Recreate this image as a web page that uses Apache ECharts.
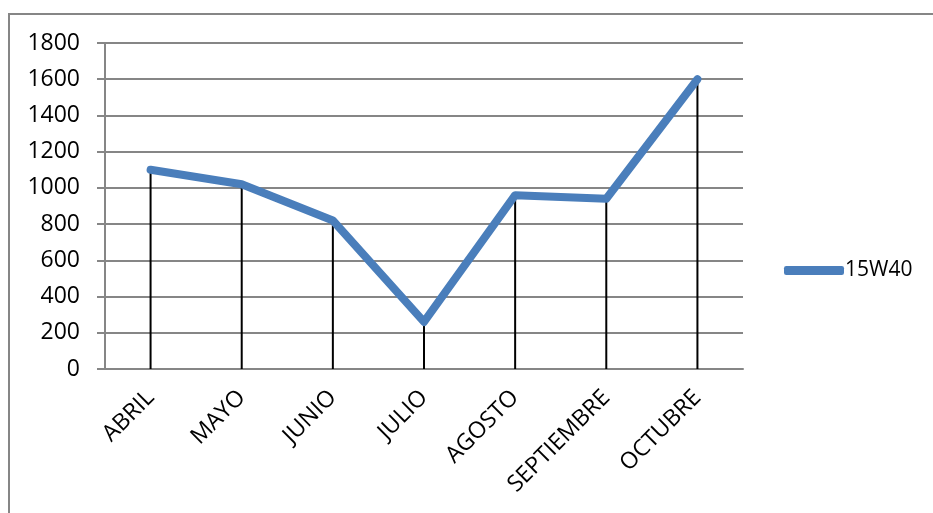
<!DOCTYPE html>
<html>
<head>
<meta charset="utf-8">
<script src="https://cdn.jsdelivr.net/npm/echarts@6/dist/echarts.min.js"></script>
<style>
  html, body { margin: 0; padding: 0; background: #fff; }
  #chart { width: 933px; height: 513px; }
</style>
</head>
<body>
<div id="chart"></div>
<script>
var meses = ["ABRIL", "MAYO", "JUNIO", "JULIO", "AGOSTO", "SEPTIEMBRE", "OCTUBRE"];
var ventas15w40 = [1100, 1020, 820, 260, 960, 940, 1600];
var serieNombre = "15W40";

var chart = echarts.init(document.getElementById("chart"));
var fuente = "Open Sans";

chart.setOption({
    animation: false,
    backgroundColor: "#fff",
    graphic: [{
        type: "rect",
        shape: { x: 9, y: 14, width: 1000, height: 600 },
        style: { fill: "none", stroke: "#868686", lineWidth: 2 },
        silent: true
    }],
    grid: { left: 105, right: 190, top: 43, bottom: 144 },
    legend: {
        data: [{ name: serieNombre, icon: "roundRect" }],
        orient: "vertical",
        left: 779,
        top: 255,
        itemWidth: 60,
        itemHeight: 9,
        itemGap: 4,
        textStyle: { fontFamily: fuente, fontSize: 21, color: "#000", padding: [0, 0, 0, -4] }
    },
    xAxis: {
        type: "category",
        data: meses,
        boundaryGap: true,
        axisLine: { lineStyle: { color: "#868686", width: 2 } },
        axisTick: { show: false },
        axisLabel: {
            rotate: 45,
            margin: 25,
            interval: 0,
            fontFamily: fuente,
            fontSize: 23,
            color: "#000"
        }
    },
    yAxis: {
        type: "value",
        min: 0,
        max: 1800,
        interval: 200,
        axisLine: { show: true, lineStyle: { color: "#868686", width: 2 } },
        axisTick: { show: true, length: 8, lineStyle: { color: "#868686", width: 2 } },
        splitLine: { lineStyle: { color: "#868686", width: 2 } },
        axisLabel: {
            fontFamily: fuente,
            fontSize: 23,
            color: "#000",
            margin: 25,
            formatter: function (v) { return String(v); }
        }
    },
    series: [{
        // lineas de caida
        name: "caida",
        type: "bar",
        data: ventas15w40,
        barWidth: 2,
        itemStyle: { color: "#000" },
        z: 1,
        silent: true
    }, {
        name: serieNombre,
        type: "line",
        data: ventas15w40,
        showSymbol: false,
        symbol: "none",
        lineStyle: { color: "#4a7ebb", width: 8, cap: "round", join: "round" },
        itemStyle: { color: "#4a7ebb" },
        z: 3
    }]
});
</script>
</body>
</html>
